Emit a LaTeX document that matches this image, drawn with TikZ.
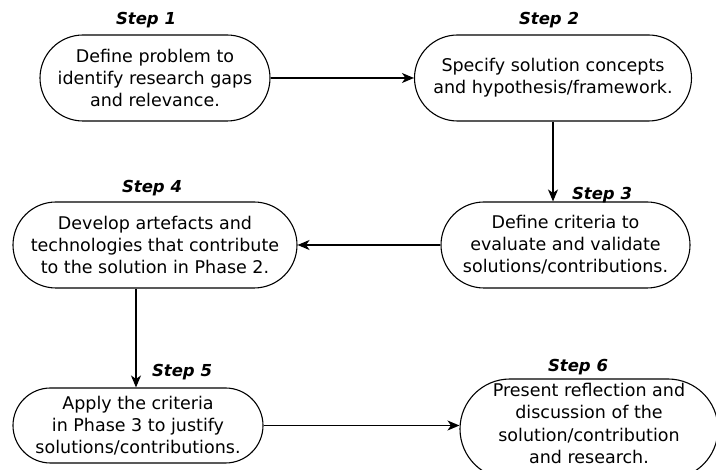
\documentclass[tikz,border=0pt]{standalone}
\usepackage{fontspec}
\setmainfont{DejaVu Sans}
\usetikzlibrary{arrows.meta,shapes.misc}
\begin{document}
\begin{tikzpicture}[x=1pt,y=-1pt,
  stepbox/.style={draw, line width=1.1pt, rounded rectangle, align=center,
    inner sep=0pt, font=\fontsize{17.5}{22}\selectfont},
  steplabel/.style={font=\fontsize{16.5}{18}\selectfont\bfseries\itshape, inner sep=0pt},
  flow/.style={line width=1.3pt, -{Stealth[length=12pt,width=10pt,inset=3.5pt]}}]
  \useasboundingbox (0,0) rectangle (716,470);
  \clip (0,0) rectangle (716,470);
  \fill[white] (0,0) rectangle (716,470);

  \node[stepbox, minimum width=230, minimum height=86] (s1) at (155,78)
    {Define problem to\\identify research gaps\\and relevance.};
  \node[stepbox, minimum width=277, minimum height=86] (s2) at (553,78)
    {Specify solution concepts\\and hypothesis/framework.};
  \node[stepbox, minimum width=249, minimum height=86] (s3) at (565.5,245)
    {Define criteria to\\evaluate and validate\\solutions/contributions.};
  \node[stepbox, minimum width=284, minimum height=86] (s4) at (155,245)
    {Develop artefacts and\\technologies that contribute\\to the solution in Phase 2.};
  \node[stepbox, minimum width=250, minimum height=75] (s5) at (138,425.5)
    {Apply the criteria\\in Phase 3 to justify\\solutions/contributions.};
  \node[stepbox, minimum width=258, minimum height=100] (s6) at (589,429)
    {};
  \node[font=\fontsize{17.5}{22.3}\selectfont, align=center, inner sep=0pt, anchor=north] (t6) at (589,383)
    {Present reflection and\\discussion of the\\solution/contribution\\and research.};

  \node[steplabel] (l1) at (146,20) {Step 1};
  \node[steplabel] (l2) at (549,20) {Step 2};
  \node[steplabel] (l3) at (602,195) {Step 3};
  \node[steplabel] (l4) at (152,188) {Step 4};
  \node[steplabel] (l5) at (182,372) {Step 5};
  \node[steplabel] (l6) at (578,367) {Step 6};

  \draw[flow] (s1.east) -- (s2.west);
  \draw[flow] (s2.south) -- (s2.south |- s3.north);
  \draw[flow] (s3.west) -- (s4.east);
  \draw[flow] (s4.south -| 136,0) -- (136,0 |- s5.north);
  \draw[flow] (s5.east) -- (s5.east -| s6.west);
\end{tikzpicture}
\end{document}
